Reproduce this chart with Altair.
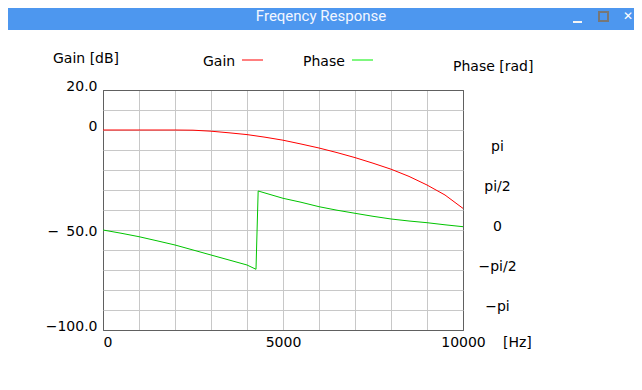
import math
import altair as alt
import pandas as pd

# ---- data ----
gain_freq = [0, 500, 1000, 1500, 2000, 2500, 3000, 3500, 4000, 4500, 5000,
             5500, 6000, 6500, 7000, 7500, 8000, 8500, 9000, 9500, 10000]
gain_db = [0, 0, 0, 0, 0, -0.1, -0.6, -1.4, -2.3, -3.6, -5.1,
           -7.0, -9.0, -11.3, -13.8, -16.6, -19.6, -23.2, -27.5, -32.5, -39.2]

phase_freq = [0, 500, 1000, 1500, 2000, 2500, 3000, 3500, 4000, 4250,
              4310, 4500, 5000, 5500, 6000, 6500, 7000, 7500, 8000, 8500,
              9000, 9500, 10000]
phase_rad = [0, -0.126, -0.263, -0.424, -0.589, -0.785, -0.982, -1.178, -1.374, -1.543,
             1.532, 1.453, 1.245, 1.09, 0.915, 0.777, 0.656, 0.538, 0.432, 0.353,
             0.287, 0.204, 0.130]

x_grid = list(range(0, 10001, 1000))
x_labels = {0: "0", 5000: "5000", 10000: "10000"}
y_grid = list(range(-100, 21, 10))
y_labels = {20: "20.0", 0: "0", -50: "\u2212\u200250.0", -100: "\u2212100.0"}
phase_ticks = [math.pi, math.pi / 2, 0.0, -math.pi / 2, -math.pi]
phase_labels = ["pi", "pi/2", "0", "\u2212pi/2", "\u2212pi"]

title_text = "Freqency Response"
gain_title = "Gain [dB]"
phase_title = "Phase [rad]"
x_unit = "[Hz]"
legend_names = ["Gain", "Phase"]

FONT = "DejaVu Sans"
GRID = "#c8c8c8"
BOX = "#606060"
RED = "#ff0000"
GREEN = "#00c400"
GREEN_LEG = "#00f000"

gain_df = pd.DataFrame({"f": gain_freq, "g": gain_db})
phase_df = pd.DataFrame({"f": phase_freq, "p": phase_rad})
dummy = pd.DataFrame({"_": [0]})


def expr_map(mapping):
    parts = [f"datum.value == {k} ? '{v}'" for k, v in mapping.items()]
    return " : ".join(parts) + " : ''"


phase_expr = " : ".join(
    f"abs(datum.value - ({v})) < 0.01 ? '{t}'" for v, t in zip(phase_ticks, phase_labels)
) + " : ''"

x_axis = alt.Axis(
    values=x_grid, labelExpr=expr_map(x_labels), title=None, domain=False,
    ticks=False, tickSize=0, grid=True,
    gridColor={"condition": {"test": "datum.value == 0 || datum.value == 10000", "value": BOX},
               "value": GRID},
    labelFont=FONT, labelFontSize=14, labelColor="black",
    labelBaseline="alphabetic", labelPadding=16,
    labelAlign={"condition": {"test": "datum.value == 0", "value": "left"}, "value": "center"},
    labelFlush=False, labelOverlap=False, labelBound=False,
)
x_enc = alt.X("f:Q", scale=alt.Scale(domain=[0, 10000], nice=False, zero=False), axis=x_axis)

gain_axis = alt.Axis(
    values=y_grid, labelExpr=expr_map(y_labels), title=None, domain=False,
    ticks=False, tickSize=0, grid=True,
    gridColor={"condition": {"test": "datum.value == 20 || datum.value == -100", "value": BOX},
               "value": GRID},
    labelFont=FONT, labelFontSize=14, labelColor="black",
    labelBaseline="alphabetic", labelPadding=6, labelAlign="right",
    labelOffset={"condition": {"test": "datum.value == -50", "value": 5}, "value": 0},
    labelFlush=False, labelOverlap=False, labelBound=False,
)

phase_axis = alt.Axis(
    orient="right", values=phase_ticks, labelExpr=phase_expr, title=None, domain=False,
    ticks=False, tickSize=0, grid=False,
    labelFont=FONT, labelFontSize=14, labelColor="black",
    labelBaseline="alphabetic", labelPadding=34, labelAlign="center",
    labelFlush=False, labelOverlap=False, labelBound=False,
)

gain_line = alt.Chart(gain_df).mark_line(color=RED, strokeWidth=1).encode(
    x=x_enc,
    y=alt.Y("g:Q", scale=alt.Scale(domain=[-100, 20], nice=False, zero=False), axis=gain_axis),
)

phase_line = alt.Chart(phase_df).mark_line(color=GREEN, strokeWidth=1).encode(
    x=x_enc,
    y=alt.Y("p:Q", scale=alt.Scale(domain=[-1.25 * math.pi, 1.75 * math.pi], nice=False, zero=False),
            axis=phase_axis),
)


def txt(text, x, y, align="left", baseline="alphabetic", size=14, color="black", font=FONT):
    return alt.Chart(dummy).mark_text(
        text=text, align=align, baseline=baseline, fontSize=size, color=color, font=font
    ).encode(x=alt.value(x), y=alt.value(y))


# window decoration (title bar)
title_bar = alt.Chart(dummy).mark_rect(color="#4d97ef").encode(
    x=alt.value(-95), x2=alt.value(531), y=alt.value(-82), y2=alt.value(-60)
)
title_lbl = txt(title_text, 218, -74, align="center", baseline="middle", size=15,
                color="#f2f6ff", font="Roboto")
btn_min = alt.Chart(dummy).mark_rule(color="#f4f4f4", strokeWidth=2).encode(
    x=alt.value(470), x2=alt.value(479), y=alt.value(-68)
)
btn_max = alt.Chart(dummy).mark_rect(fill="#4d97ef", stroke="#777777", strokeWidth=2).encode(
    x=alt.value(496), x2=alt.value(505), y=alt.value(-78), y2=alt.value(-69)
)
btn_close = txt("\u2715", 525, -74, align="center", baseline="middle", size=12,
                color="#ffffff", font=FONT)

gain_t = txt(gain_title, -50, -27)
phase_t = txt(phase_title, 350, -19)
hz_t = txt(x_unit, 400, 257)
leg_gain_t = txt(legend_names[0], 100, -24)
leg_phase_t = txt(legend_names[1], 200, -24)
leg_gain_l = alt.Chart(dummy).mark_rule(color=RED, strokeWidth=1).encode(
    x=alt.value(139), x2=alt.value(160), y=alt.value(-30)
)
leg_phase_l = alt.Chart(dummy).mark_rule(color=GREEN_LEG, strokeWidth=1).encode(
    x=alt.value(249), x2=alt.value(270), y=alt.value(-30)
)

chart = alt.layer(
    gain_line, phase_line,
    title_bar, title_lbl, btn_min, btn_max, btn_close,
    gain_t, phase_t, hz_t, leg_gain_t, leg_phase_t, leg_gain_l, leg_phase_l,
).resolve_scale(y="independent").properties(
    width=360, height=240,
    autosize=alt.AutoSizeParams(type="none"),
    padding={"left": 95, "top": 82, "right": 171, "bottom": 50},
    background="white",
).configure_view(stroke=BOX, strokeWidth=1)

chart.save("out.html", embed_options={"renderer": "svg", "actions": False})
